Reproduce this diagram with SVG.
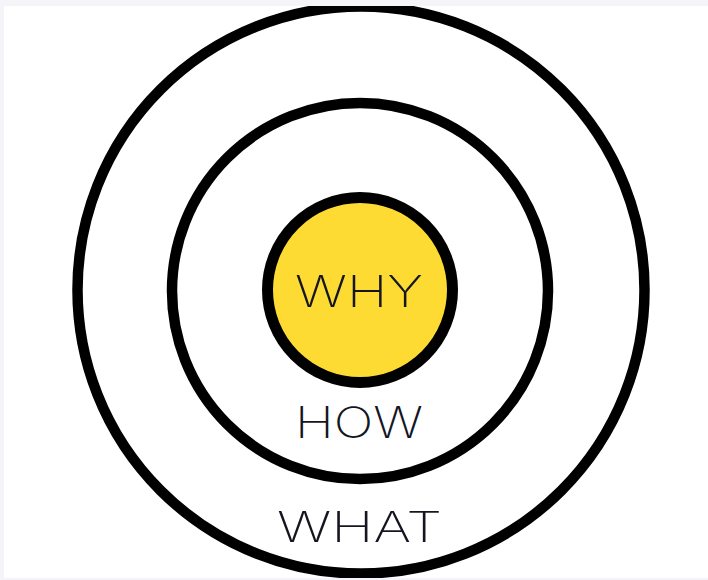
<svg xmlns="http://www.w3.org/2000/svg" width="708" height="580" viewBox="0 0 708 580">
<style>
.ring{fill:none;stroke:#000;stroke-width:10.5}
.lbl{font-family:Inter,"Liberation Sans",sans-serif;font-weight:250;fill:#14151f;text-anchor:middle}
</style>
<rect x="0" y="0" width="708" height="580" fill="#f4f4f9"/>
<rect x="4" y="6" width="704" height="572" fill="#ffffff"/>
<svg x="4" y="6" width="704" height="572" viewBox="4 6 704 572" overflow="hidden">
<g id="what">
<circle class="ring" cx="361" cy="290" r="283.5"/>
<text class="lbl" x="359.5" y="542" font-size="42" textLength="165" lengthAdjust="spacingAndGlyphs">WHAT</text>
</g>
<g id="how">
<circle class="ring" cx="360" cy="291" r="188"/>
<text class="lbl" x="359" y="438" font-size="43" textLength="128" lengthAdjust="spacingAndGlyphs">HOW</text>
</g>
<g id="why">
<circle cx="360" cy="290" r="92.5" fill="#fedb33" stroke="#000" stroke-width="11"/>
<text class="lbl" x="359" y="307" font-size="44" textLength="128" lengthAdjust="spacingAndGlyphs">WHY</text>
</g>
</svg>
</svg>
